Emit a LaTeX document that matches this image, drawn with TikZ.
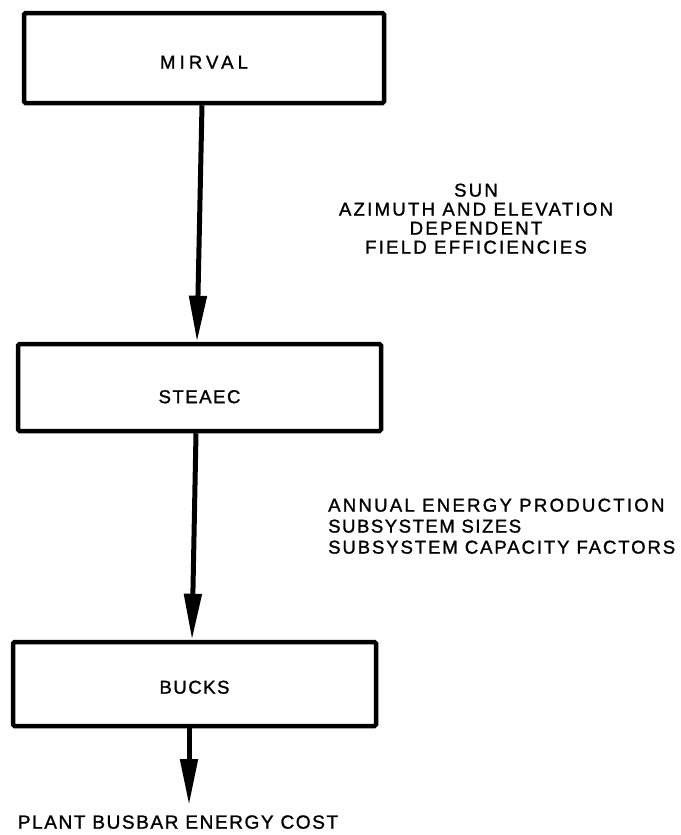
\documentclass[tikz,border=0pt]{standalone}
\usepackage{fontspec}
\setmainfont{Liberation Sans}
\newfontfamily\lblfamily[LetterSpace=8,FakeBold=1.2]{Liberation Sans}
\newfontfamily\midfamily[LetterSpace=10,FakeBold=1.2]{Liberation Sans}
\newfontfamily\widefamily[LetterSpace=12,FakeBold=1.2]{Liberation Sans}
\newfontfamily\mirfamily[LetterSpace=22,FakeBold=1.2]{Liberation Sans}
\newcommand\lblfnt{\lblfamily\fontsize{18.6pt}{19pt}\selectfont}
\newcommand\mirfnt{\mirfamily\fontsize{18.6pt}{19pt}\selectfont}
\newcommand\sunfnt{\widefamily\fontsize{18.6pt}{19pt}\selectfont}
\newcommand\outfnt{\widefamily\fontsize{18.6pt}{21pt}\selectfont}
\newcommand\costfnt{\lblfamily\fontsize{19.1pt}{21pt}\selectfont}
\usetikzlibrary{arrows.meta}
\begin{document}
\begin{tikzpicture}[x=1pt,y=-1pt]
\tikzset{
  box/.style={draw, line width=4.5pt, rounded corners=1.5pt, minimum width=360pt,
    minimum height=88pt, inner sep=0pt, text depth=0pt, font=\lblfnt},
  flow/.style={line width=5pt, -{Triangle[length=46pt,width=17pt]}},
  lbl/.style={inner sep=0pt, text depth=0pt}
}
\useasboundingbox (0,0) rectangle (680,835);

\node[box, font=\mirfnt, minimum width=360pt, minimum height=90pt, text height=21.3pt] (mirval) at (204,58) {MIRVAL};
\node[box, minimum width=363pt, minimum height=87pt, text height=31.3pt] (steaec) at (199.5,387.5) {STEAEC};
\node[box, minimum width=363pt, minimum height=84pt, text height=19.3pt] (bucks) at (194.5,684) {BUCKS};

\node[lbl, font=\sunfnt, align=center, anchor=north] (sunlbl) at (476,183.4)
  {SUN\\AZIMUTH AND ELEVATION\\DEPENDENT\\FIELD EFFICIENCIES};
\node[lbl, font=\outfnt, align=left, anchor=north west] (outlbl) at (328,498.4)
  {ANNUAL ENERGY PRODUCTION\\\lblfamily SUBSYSTEM SIZES\\\midfamily SUBSYSTEM CAPACITY FACTORS};
\node[lbl, font=\costfnt] (cost) at (178,822) {PLANT BUSBAR ENERGY COST};

\coordinate (costtip) at (189,805);

\draw[flow] ([xshift=-2pt]mirval.south) -- ([xshift=-2.5pt]steaec.north);
\draw[flow] ([xshift=-3.5pt]steaec.south) -- ([xshift=-2.5pt]bucks.north);
\draw[flow] (bucks.south -| costtip) -- (costtip);
\end{tikzpicture}
\end{document}
